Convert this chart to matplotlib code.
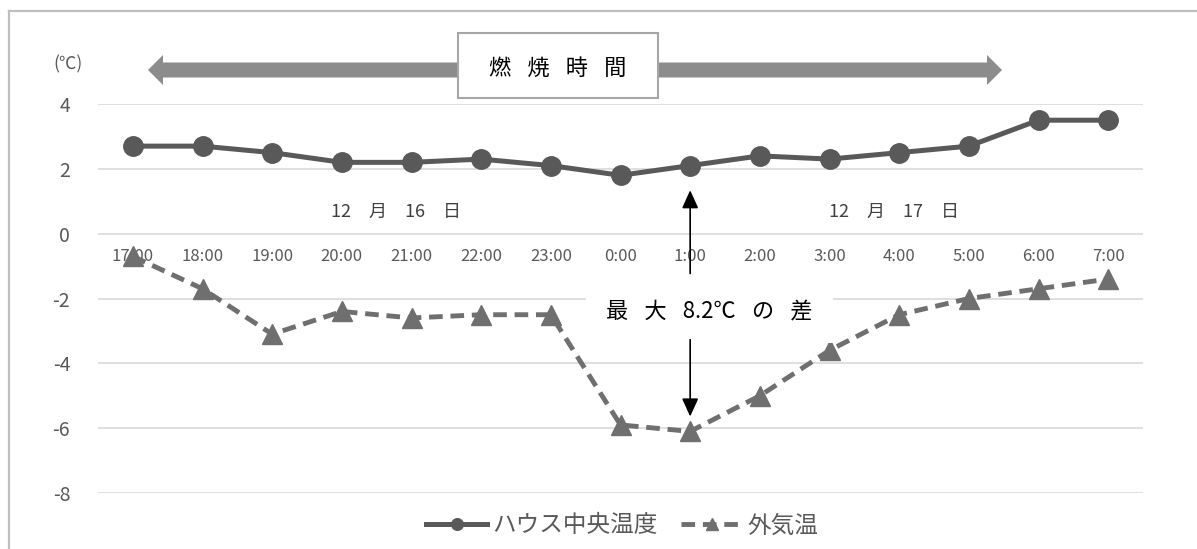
import matplotlib.pyplot as plt
from matplotlib.patches import Polygon, Rectangle
from matplotlib.lines import Line2D
import numpy as np

plt.rcParams['font.family'] = ['Noto Sans CJK JP', 'DejaVu Sans']

# 時刻と温度データ
hours = ['17:00', '18:00', '19:00', '20:00', '21:00', '22:00', '23:00', '0:00',
         '1:00', '2:00', '3:00', '4:00', '5:00', '6:00', '7:00']
house_temp = [2.7, 2.7, 2.5, 2.2, 2.2, 2.3, 2.1, 1.8, 2.1, 2.4, 2.3, 2.5, 2.7, 3.5, 3.5]
outside_temp = [-0.7, -1.7, -3.1, -2.4, -2.6, -2.5, -2.5, -5.9, -6.1, -5.0, -3.6, -2.5, -2.0, -1.7, -1.4]
yticks = [4, 2, 0, -2, -4, -6, -8]

W, H = 1197, 549
SP = '\u2002 '  # 文字間の空き


def fx(x):
    return x / W


def fy(y):
    return 1 - y / H


fig = plt.figure(figsize=(W / 100, H / 100), dpi=100)
ax = fig.add_axes([fx(98), fy(493), fx(1143) - fx(98), fy(104) - fy(493)])

x = np.arange(len(hours))
house_line, = ax.plot(x, house_temp, color='#595959', lw=3.6, marker='o', ms=14,
                      zorder=4, label='ハウス中央温度')
out_line, = ax.plot(x, outside_temp, color='#6f6f6f', lw=3.5, ls=(0, (2.8, 1.6)),
                    marker='^', ms=14, zorder=4, label='外気温')

ax.set_xlim(-0.5, len(hours) - 0.5)
ax.set_ylim(-8, 4)
ax.set_yticks(yticks)
ax.set_yticklabels([str(v) for v in yticks])
ax.set_xticks(x)
ax.set_xticklabels(hours)
ax.grid(axis='y', color='#d9d9d9', lw=1.2)
ax.set_axisbelow(True)
for side in ['top', 'right', 'left']:
    ax.spines[side].set_visible(False)
# カテゴリ軸は0の位置に置く
ax.spines['bottom'].set_position(('data', 0))
ax.spines['bottom'].set_visible(False)
ax.tick_params(axis='x', length=0, pad=10, labelsize=12, labelcolor='#595959')
ax.tick_params(axis='y', length=0, pad=20, labelsize=14, labelcolor='#595959')

# 単位
fig.text(fx(68), fy(64), '(℃)', ha='center', va='center', fontsize=12.5, color='#595959')

# 燃焼時間の両矢印
ay, sh, hh, hl = 70, 7.5, 15, 15
l, r = 148, 1002
pts = [(l, ay), (l + hl, ay - hh), (l + hl, ay - sh), (r - hl, ay - sh),
       (r - hl, ay - hh), (r, ay), (r - hl, ay + hh), (r - hl, ay + sh),
       (l + hl, ay + sh), (l + hl, ay + hh)]
fig.patches.append(Polygon([(fx(a), fy(b)) for a, b in pts], closed=True,
                           transform=fig.transFigure, color='#8c8c8c', lw=0))
fig.patches.append(Rectangle((fx(458), fy(98)), fx(200), fy(33) - fy(98),
                             transform=fig.transFigure, facecolor='white',
                             edgecolor='#a6a6a6', lw=1.5))
fig.text(fx(558), fy(68), SP.join('燃焼時間'), ha='center', va='center',
         fontsize=16, color='black')

# 日付
ax.text(3.78, 0.67, '12\u3000月\u300016\u3000日', ha='center', va='center',
        fontsize=13, color='#404040')
ax.text(10.92, 0.67, '12\u3000月\u300017\u3000日', ha='center', va='center',
        fontsize=13, color='#404040')

# 最大温度差
i = int(np.argmax(np.array(house_temp) - np.array(outside_temp)))
diff = house_temp[i] - outside_temp[i]
mid = -2.4
head = '-|>,head_length=1.1,head_width=0.5'
ax.annotate('', xy=(i, house_temp[i] - 0.76), xytext=(i, -1.23),
            arrowprops=dict(arrowstyle=head, color='black', lw=1.2, shrinkA=0, shrinkB=0),
            zorder=6)
ax.annotate('', xy=(i, outside_temp[i] + 0.46), xytext=(i, -3.27),
            arrowprops=dict(arrowstyle=head, color='black', lw=1.2, shrinkA=0, shrinkB=0),
            zorder=6)
ax.text(i + 0.28, mid, SP.join(['最', '大', f'{diff:.1f}℃', 'の', '差']),
        ha='center', va='center', fontsize=16, color='black', zorder=5,
        bbox=dict(boxstyle='square,pad=0.9', fc='white', ec='none'))

# 枠線
fig.add_artist(Line2D([fx(9), fx(9)], [fy(11), 0], transform=fig.transFigure,
                      color='#bfbfbf', lw=1.6))
fig.add_artist(Line2D([fx(9), 1], [fy(11), fy(11)], transform=fig.transFigure,
                      color='#bfbfbf', lw=1.6))

fig.legend(handles=[house_line, out_line], loc='center', bbox_to_anchor=(fx(622), fy(526)),
           ncol=2, frameon=False, fontsize=17, labelcolor='#595959', handlelength=2.6,
           handletextpad=0.2, columnspacing=1.0, markerscale=0.6)

fig.savefig('out.png', dpi=100)
